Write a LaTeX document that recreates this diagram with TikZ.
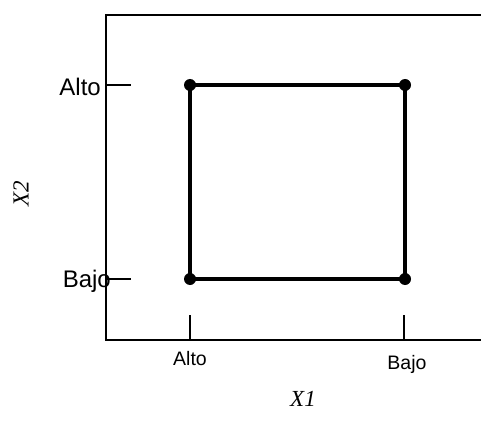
\documentclass[tikz,border=0pt]{standalone}
\usepackage{fontspec}
\setmainfont{Liberation Sans}
\newfontfamily\serifit{Liberation Serif}
\begin{document}
\begin{tikzpicture}[x=1pt,y=-1pt,
  dot/.style={circle,fill=black,inner sep=0pt,minimum size=12pt},
  frameline/.style={line width=2.2pt},
  sqline/.style={line width=3.6pt},
  tickline/.style={line width=1.8pt},
  ylab/.style={inner sep=0pt,font=\fontsize{24}{28}\selectfont},
  xlab/.style={inner sep=0pt,font=\fontsize{19.5}{23}\selectfont},
  axlab/.style={inner sep=0pt,font=\serifit\itshape\fontsize{23}{27}\selectfont}]
\useasboundingbox (0,0) rectangle (481,422);
% frame
\coordinate (tr) at (482,15);
\coordinate (tl) at (106,15);
\coordinate (bl) at (106,340);
\coordinate (br) at (482,340);
\draw[frameline] (tr) -- (tl) -- (bl) -- (br);
% ticks
\coordinate (yt1) at (131,85);
\coordinate (yt2) at (131,279);
\coordinate (yb1) at (106,85);
\coordinate (yb2) at (106,279);
\coordinate (xt1) at (190,315);
\coordinate (xt2) at (404,315);
\coordinate (xb1) at (190,340);
\coordinate (xb2) at (404,340);
\draw[tickline] (yb1) -- (yt1);
\draw[tickline] (yb2) -- (yt2);
\draw[tickline] (xb1) -- (xt1);
\draw[tickline] (xb2) -- (xt2);
% square
\node[dot] (a) at (190,85) {};
\node[dot] (b) at (405,85) {};
\node[dot] (c) at (405,279) {};
\node[dot] (d) at (190,279) {};
\draw[sqline] (a.center) -- (b.center) -- (c.center) -- (d.center) -- cycle;
% labels
\node[ylab,anchor=base east] (yalto) at (101,96) {Alto};
\node[ylab,anchor=base east] (ybajo) at (111,287) {Bajo};
\node[xlab,anchor=base] (xalto) at (190,365) {Alto};
\node[xlab,anchor=base] (xbajo) at (407,369) {Bajo};
\node[axlab] (x1) at (303,399) {X1};
\node[axlab,rotate=90] (x2) at (21,194) {X2};
\end{tikzpicture}
\end{document}
